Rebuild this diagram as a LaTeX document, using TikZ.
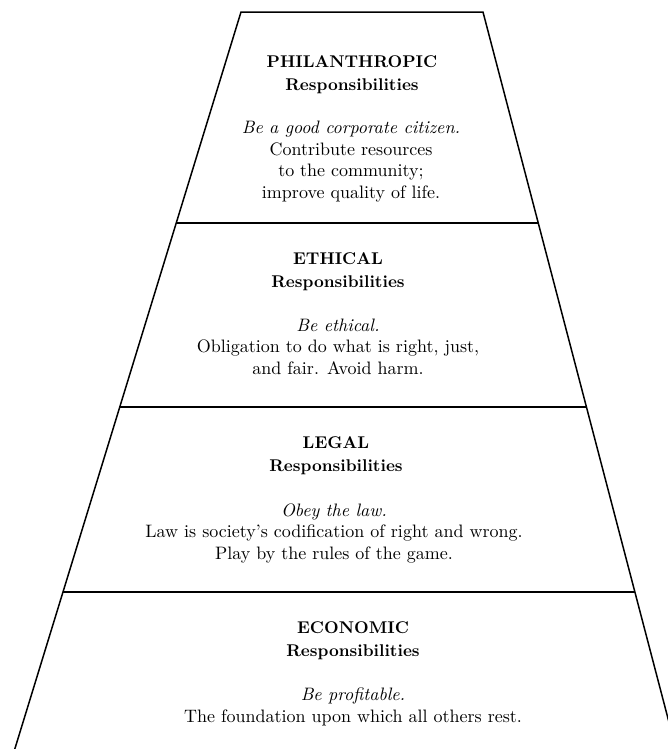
\documentclass[tikz,border=0pt]{standalone}
\usepackage{tikz}
\usetikzlibrary{calc,positioning}

\begin{document}
\begin{tikzpicture}[x=0.6pt,y=-0.6pt,
	side/.style = {draw, line width=0.9pt},
	divider/.style = {draw, line width=1.2pt},
	heading/.style = {align=center, inner sep=0pt, anchor=base, font=\fontsize{10.2}{13.8}\selectfont\bfseries},
	duty/.style = {align=center, inner sep=0pt, anchor=base, font=\fontsize{10.8}{12.9}\selectfont}]

	\useasboundingbox (0,0) rectangle (668,749);
	\clip (0,0) rectangle (668,749);

	% outline of the pyramid
	\coordinate (tl) at (241,12);
	\coordinate (tr) at (483,12);
	\coordinate (bl) at (14.8,749);
	\coordinate (br) at (676,749);
	\draw[side] (bl) -- (tl) -- (tr) -- (br);

	% dividing lines between the layers
	\foreach \y/\n in {223/1,407/2,592/3}
		\draw[divider] ($(tl)!{(\y-12)/737}!(bl)$) -- ($(tr)!{(\y-12)/737}!(br)$);

	% headings of the four layers (placed by their last line)
	\begin{scope}[every node/.style={heading}]
		\node (phil) at (352,90) {PHILANTHROPIC\\Responsibilities};
		\node (eth) at (338,287) {ETHICAL\\Responsibilities};
		\node (leg) at (336,471) {LEGAL\\Responsibilities};
		\node (eco) at (353,656) {ECONOMIC\\Responsibilities};
	\end{scope}

	% what each layer asks for
	\begin{scope}[every node/.style={duty}]
		\node (phil-d) at (351,198) {\textit{Be a good corporate citizen.}\\Contribute resources\\to the community;\\improve quality of life.};
		\node (eth-d) at (338,374) {\textit{Be ethical.}\\Obligation to do what is right, just,\\and fair. Avoid harm.};
		\node (leg-d) at (334,559) {\textit{Obey the law.}\\Law is society's codification of right and wrong.\\Play by the rules of the game.};
		\node (eco-d) at (353,722) {\textit{Be profitable.}\\The foundation upon which all others rest.};
	\end{scope}

\end{tikzpicture}
\end{document}
